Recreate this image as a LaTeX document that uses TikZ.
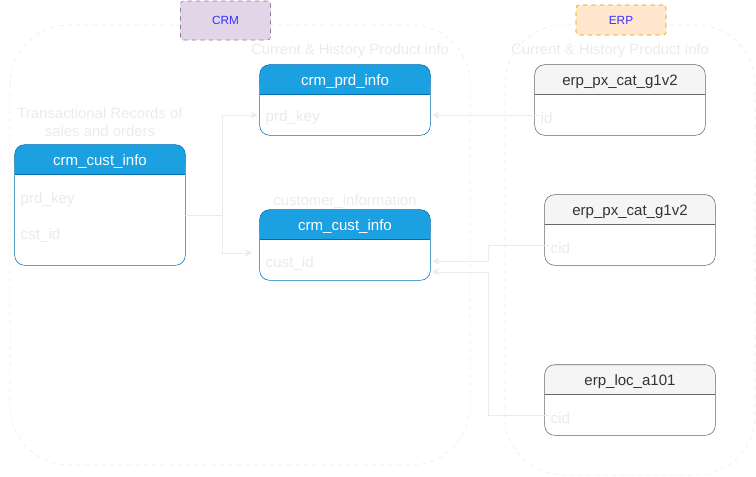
\documentclass[tikz,border=0pt]{standalone}
\usepackage{fontspec}
\setmainfont{Liberation Sans}
\usetikzlibrary{arrows.meta}

\definecolor{crmhead}{HTML}{1BA1E2}
\definecolor{crmline}{HTML}{006EAF}
\definecolor{crmtagfill}{HTML}{E1D5E7}
\definecolor{crmtagline}{HTML}{9673A6}
\definecolor{erphead}{HTML}{F5F5F5}
\definecolor{erpline}{HTML}{666666}
\definecolor{erptagfill}{HTML}{FFE6CC}
\definecolor{erptagline}{HTML}{D79B00}
\definecolor{erptext}{HTML}{333333}
\definecolor{faint}{HTML}{EBEBEB}
\definecolor{tagtext}{HTML}{3333FF}

\tikzset{
  group/.style={draw=faint, dashed, rounded corners=42pt},
  tag/.style={draw, dashed, rounded corners=2pt, minimum width=2.25cm, text=tagtext,
    font=\fontsize{8.4}{10}\selectfont},
  tablebox/.style={minimum width=4.25cm, inner sep=0pt},
  title/.style={font=\fontsize{10.7}{12}\selectfont},
  field/.style={anchor=west, inner sep=1pt, text=faint, font=\fontsize{10.8}{12}\selectfont},
  note/.style={text=faint, align=center, inner sep=0pt, font=\fontsize{10.6}{12.8}\selectfont},
  link/.style={draw=faint, line width=0.5pt, -{Stealth[length=5pt, width=5pt]}},
}

\begin{document}
\begin{tikzpicture}[x=0.025cm, y=-0.025cm]
\useasboundingbox (0,0) rectangle (756,476);

% source groups
\draw[group] (10,25) rectangle (470,465);
\draw[group] (505,25) rectangle (755,475);
\node[tag, fill=crmtagfill, draw=crmtagline, minimum height=0.975cm] (crmtag) at (225.5,20.5) {CRM};
\node[tag, fill=erptagfill, draw=erptagline, minimum height=0.75cm] (erptag) at (621,20) {ERP};

% crm tables
\foreach \nm/\cx/\cy/\h/\ttl in {custL/100/205/3/crm\_cust\_info, prd/345/100/1.75/crm\_prd\_info,
  custM/345/245/1.75/crm\_cust\_info}{
  \node[tablebox, minimum height=\h cm] (\nm) at (\cx,\cy) {};
  \fill[white, rounded corners=7pt] (\nm.north west) rectangle (\nm.south east);
  \fill[crmhead, rounded corners=7pt] (\nm.north west) rectangle ([yshift=-0.75cm]\nm.north east);
  \fill[crmhead] ([yshift=-0.4cm]\nm.north west) rectangle ([yshift=-0.75cm]\nm.north east);
  \draw[crmline] ([yshift=-0.75cm]\nm.north west) -- ([yshift=-0.75cm]\nm.north east);
  \draw[crmline, rounded corners=7pt] (\nm.north west) rectangle (\nm.south east);
  \node[title, text=white] (\nm title) at ([yshift=-0.42cm]\nm.north) {\ttl};
}

% erp tables
\foreach \nm/\cx/\cy/\ttl in {erpA/620/100/erp\_px\_cat\_g1v2, erpB/630/230/erp\_px\_cat\_g1v2,
  erpC/630/400/erp\_loc\_a101}{
  \node[tablebox, minimum height=1.75cm] (\nm) at (\cx,\cy) {};
  \fill[white, rounded corners=7pt] (\nm.north west) rectangle (\nm.south east);
  \fill[erphead, rounded corners=7pt] (\nm.north west) rectangle ([yshift=-0.75cm]\nm.north east);
  \fill[erphead] ([yshift=-0.4cm]\nm.north west) rectangle ([yshift=-0.75cm]\nm.north east);
  \draw[erpline] ([yshift=-0.75cm]\nm.north west) -- ([yshift=-0.75cm]\nm.north east);
  \draw[erpline, rounded corners=7pt] (\nm.north west) rectangle (\nm.south east);
  \node[title, text=erptext] (\nm title) at ([yshift=-0.42cm]\nm.north) {\ttl};
}

% group notes
\node[note] (salesnote) at (100,122) {Transactional Records of\\sales and orders};
\node[note] (prdnote) at (350,51) {Current \& History Product info};
\node[note] (custnote) at (345,202) {customer\_information};
\node[note] (erpnote) at (610,51) {Current \& History Product info};

% fields
\node[field] (prdkeyL) at (19,200) {prd\_key};
\node[field] (cstid) at (19,235) {cst\_id};
\node[field] (prdkey) at (264,118) {prd\_key};
\node[field] (custid) at (264,263) {cust\_id};
\node[field] (idA) at (539,118) {id};
\node[field] (cidB) at (549,248) {cid};
\node[field] (cidC) at (549,418) {cid};

% links
\coordinate (split) at (222,215);
\coordinate (tocust) at (252,253);
\coordinate (bus) at (488,0);
\coordinate (lowend) at (432,272);
\coordinate (prdin) at (0,115);
\coordinate (custin) at (0,261);
\draw[draw=faint, line width=0.5pt] (custL.east |- split) -- (split);
\draw[link] (split) |- ([xshift=-0.05cm]prd.west |- prdin);
\draw[link] (split) |- (tocust);
\draw[link] (idA.west |- prdin) -- ([xshift=0.05cm]prd.east |- prdin);
\draw[link] (cidB.west |- 0,245) -- (bus |- 0,245) |- ([xshift=0.05cm]custM.east |- custin);
\draw[link] (cidC.west |- 0,415) -- (bus |- 0,415) |- (lowend);
\end{tikzpicture}
\end{document}
